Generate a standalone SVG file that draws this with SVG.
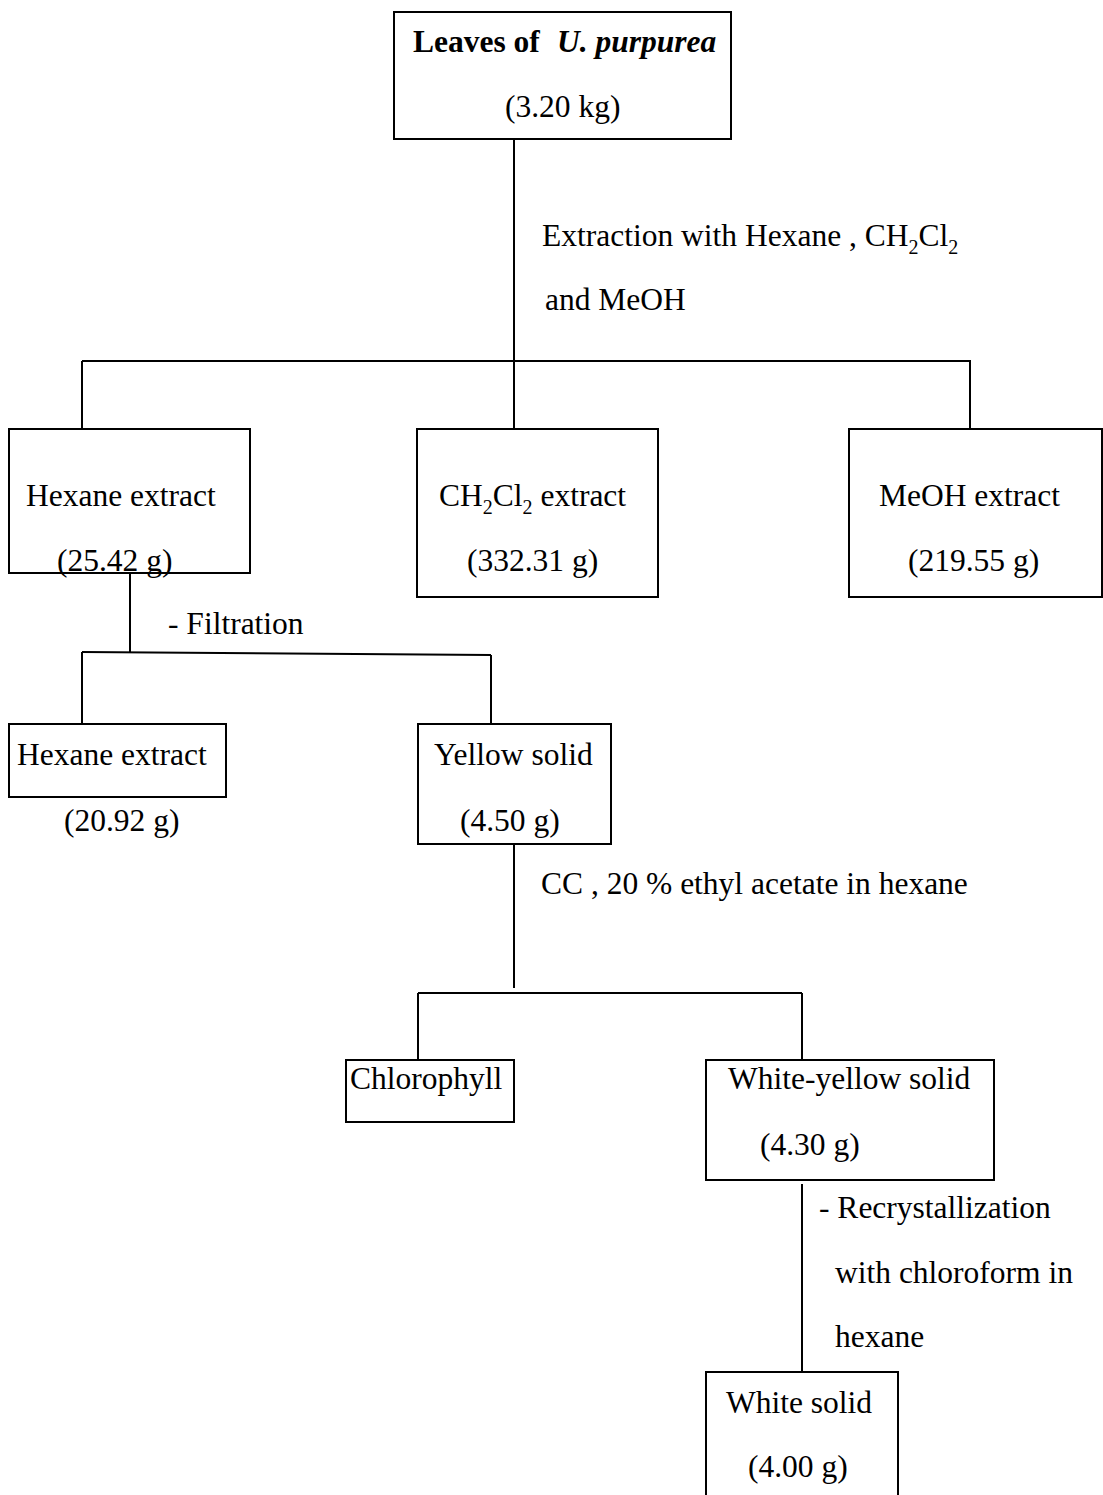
<svg xmlns="http://www.w3.org/2000/svg" width="1103" height="1495" viewBox="0 0 1103 1495">
<style>
.box{fill:#fff;stroke:#000;stroke-width:2}
.ln{fill:none;stroke:#000;stroke-width:2}
text{font-family:"Liberation Serif","Times New Roman",serif;font-size:31.5px;fill:#000}
.sub{font-size:20px}
</style>
<rect width="1103" height="1495" fill="#fff"/>
<g id="connectors">
<line class="ln" x1="514" y1="139" x2="514" y2="361"/>
<line class="ln" x1="82" y1="361" x2="971" y2="361"/>
<line class="ln" x1="82" y1="361" x2="82" y2="429"/>
<line class="ln" x1="514" y1="361" x2="514" y2="429"/>
<line class="ln" x1="970" y1="361" x2="970" y2="429"/>
<line class="ln" x1="130" y1="573" x2="130" y2="653"/>
<line class="ln" x1="82" y1="652" x2="491" y2="655"/>
<line class="ln" x1="82" y1="652" x2="82" y2="724"/>
<line class="ln" x1="491" y1="655" x2="491" y2="724"/>
<line class="ln" x1="514" y1="844" x2="514" y2="988"/>
<line class="ln" x1="418" y1="993" x2="802" y2="993"/>
<line class="ln" x1="418" y1="993" x2="418" y2="1060"/>
<line class="ln" x1="802" y1="993" x2="802" y2="1060"/>
<line class="ln" x1="802" y1="1184" x2="802" y2="1372"/>
<text x="542" y="246">Extraction with Hexane , CH<tspan class="sub" dy="8">2</tspan><tspan dy="-8">Cl</tspan><tspan class="sub" dy="8">2</tspan></text>
<text x="545" y="310">and MeOH</text>
<text x="168" y="634">- Filtration</text>
<text x="541" y="894">CC , 20 % ethyl acetate in hexane</text>
<text x="819" y="1218">- Recrystallization</text>
<text x="835" y="1283">with chloroform in</text>
<text x="835" y="1347">hexane</text>
</g>
<g id="leaves">
<rect class="box" x="394" y="12" width="337" height="127"/>
<text x="413" y="52" font-weight="bold">Leaves of<tspan x="557" font-style="italic">U. purpurea</tspan></text>
<text x="505" y="117">(3.20 kg)</text>
</g>
<g id="hexane1">
<rect class="box" x="9" y="429" width="241" height="144"/>
<text x="26" y="506">Hexane extract</text>
<text x="57" y="571">(25.42 g)</text>
</g>
<g id="ch2cl2">
<rect class="box" x="417" y="429" width="241" height="168"/>
<text x="439" y="506">CH<tspan class="sub" dy="8">2</tspan><tspan dy="-8">Cl</tspan><tspan class="sub" dy="8">2</tspan><tspan dy="-8"> extract</tspan></text>
<text x="467" y="571">(332.31 g)</text>
</g>
<g id="meoh">
<rect class="box" x="849" y="429" width="253" height="168"/>
<text x="879" y="506">MeOH extract</text>
<text x="908" y="571">(219.55 g)</text>
</g>
<g id="hexane2">
<rect class="box" x="9" y="724" width="217" height="73"/>
<text x="17" y="765">Hexane extract</text>
<text x="64" y="831">(20.92 g)</text>
</g>
<g id="yellow">
<rect class="box" x="418" y="724" width="193" height="120"/>
<text x="434" y="765">Yellow solid</text>
<text x="460" y="831">(4.50 g)</text>
</g>
<g id="chlorophyll">
<rect class="box" x="346" y="1060" width="168" height="62"/>
<text x="350" y="1089">Chlorophyll</text>
</g>
<g id="whiteyellow">
<rect class="box" x="706" y="1060" width="288" height="120"/>
<text x="728" y="1089">White-yellow solid</text>
<text x="760" y="1155">(4.30 g)</text>
</g>
<g id="white">
<rect class="box" x="706" y="1372" width="192" height="130"/>
<text x="726" y="1413">White solid</text>
<text x="748" y="1477">(4.00 g)</text>
</g>
</svg>
